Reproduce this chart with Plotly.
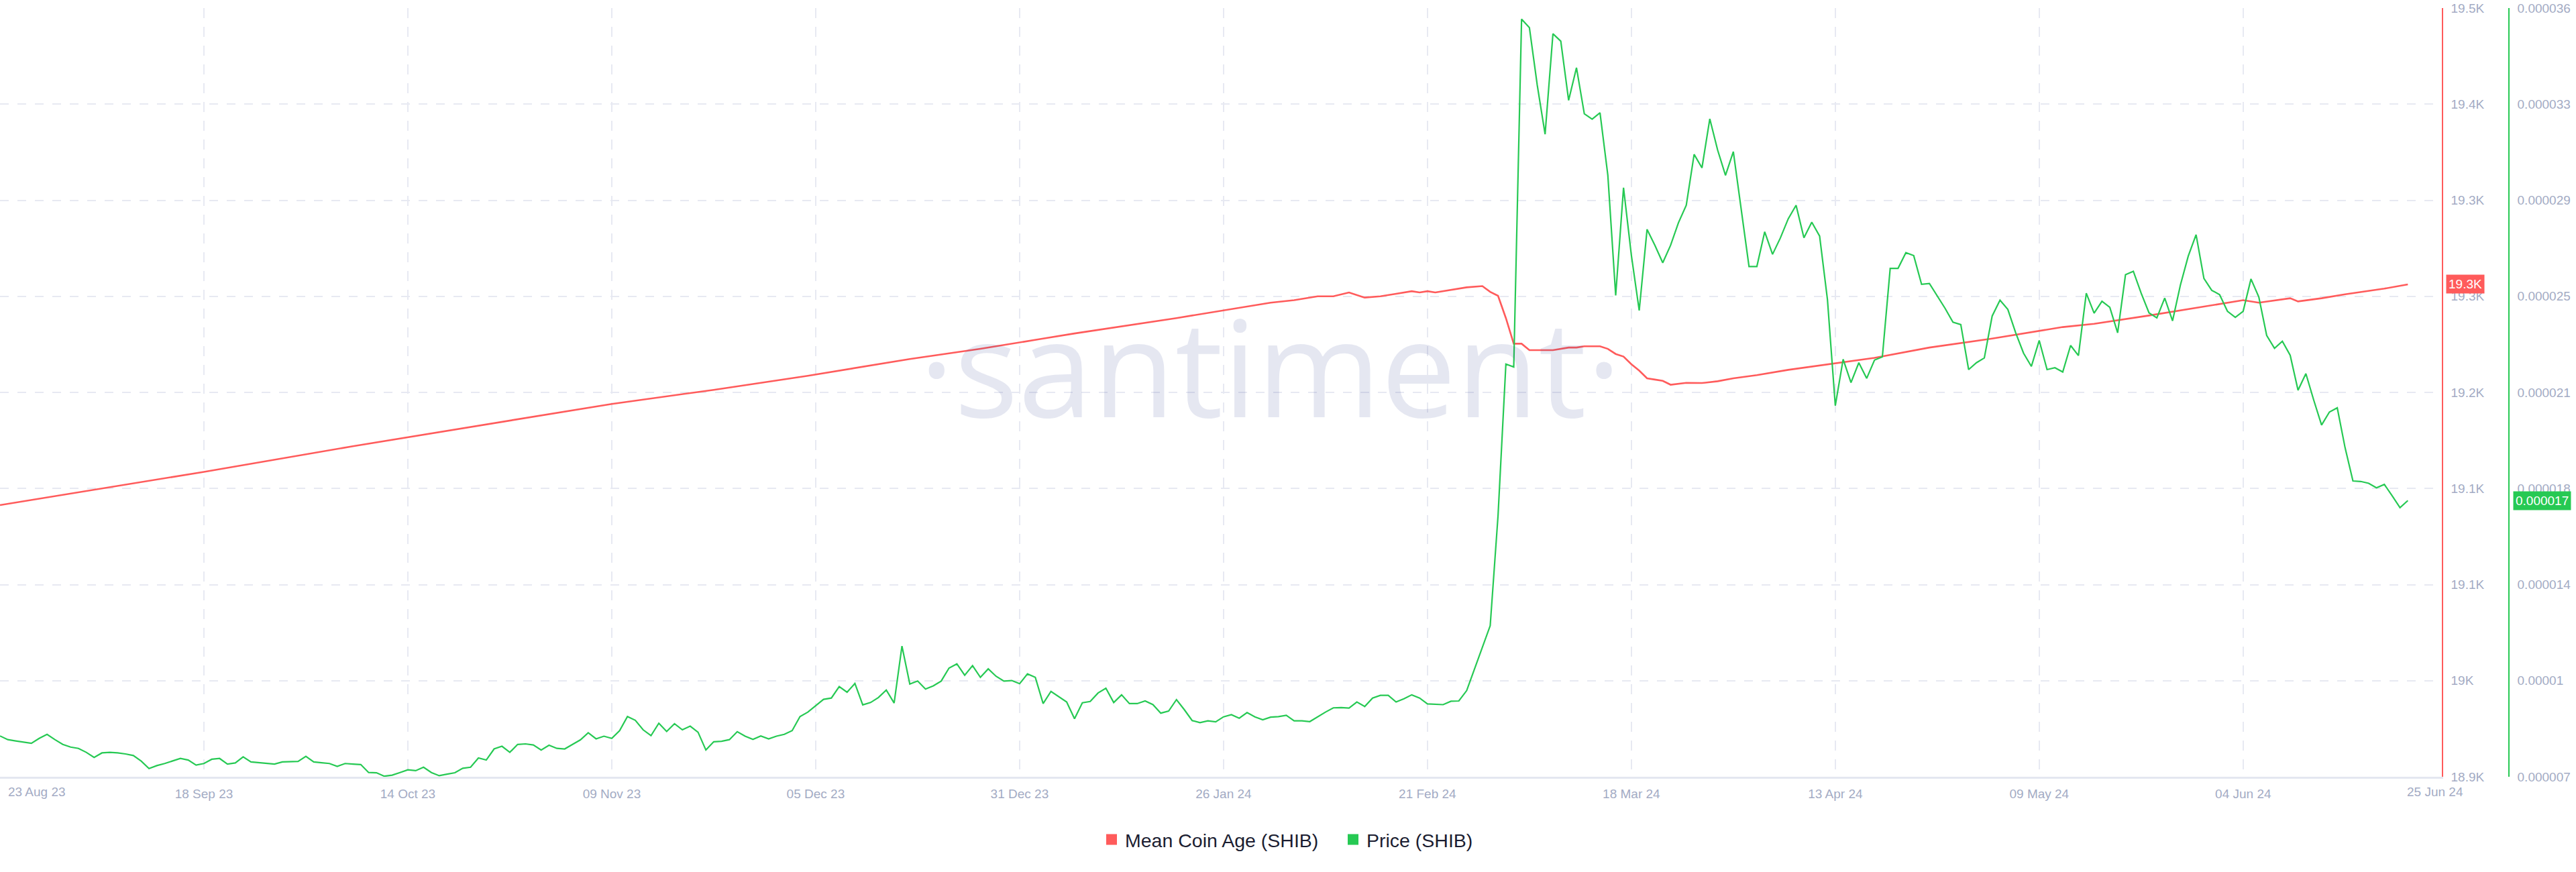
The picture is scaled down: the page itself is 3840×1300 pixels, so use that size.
import plotly.graph_objects as go
import pandas as pd

# ---------------- data ----------------
start_date = "2023-08-23"

price_e6 = [
    8.54, 8.40, 8.35, 8.30, 8.26, 8.45, 8.60, 8.40, 8.22, 8.12,
    8.07, 7.92, 7.73, 7.90, 7.92, 7.90, 7.86, 7.80, 7.59, 7.31,
    7.42, 7.50, 7.60, 7.69, 7.63, 7.44, 7.50, 7.66, 7.69, 7.48,
    7.52, 7.75, 7.56, 7.53, 7.50, 7.48, 7.56, 7.57, 7.58, 7.77,
    7.56, 7.53, 7.50, 7.39, 7.50, 7.48, 7.46, 7.16, 7.15, 7.02,
    7.06, 7.16, 7.26, 7.23, 7.36, 7.16, 7.04, 7.10, 7.15, 7.32,
    7.36, 7.71, 7.63, 8.05, 8.15, 7.92, 8.22, 8.24, 8.20, 8.01,
    8.19, 8.07, 8.05, 8.22, 8.39, 8.66, 8.43, 8.53, 8.45, 8.74,
    9.27, 9.13, 8.77, 8.55, 9.02, 8.71, 9.00, 8.77, 8.91, 8.68,
    8.01, 8.32, 8.34, 8.40, 8.70, 8.53, 8.41, 8.54, 8.43, 8.53,
    8.60, 8.74, 9.27, 9.44, 9.68, 9.92, 9.97, 10.40, 10.19, 10.52,
    9.71, 9.80, 9.99, 10.27, 9.78, 11.93, 10.50, 10.61, 10.31, 10.43,
    10.61, 11.10, 11.26, 10.83, 11.19, 10.75, 11.07, 10.79, 10.61, 10.63,
    10.51, 10.88, 10.75, 9.76, 10.22, 10.03, 9.82, 9.19, 9.79, 9.84,
    10.16, 10.34, 9.80, 10.09, 9.76, 9.76, 9.86, 9.72, 9.40, 9.48,
    9.91, 9.53, 9.12, 9.04, 9.11, 9.07, 9.26, 9.34, 9.21, 9.42,
    9.26, 9.15, 9.25, 9.27, 9.32, 9.11, 9.11, 9.08, 9.27, 9.44,
    9.60, 9.61, 9.59, 9.82, 9.65, 9.97, 10.07, 10.07, 9.82, 9.94,
    10.09, 9.97, 9.75, 9.74, 9.72, 9.85, 9.86, 10.25, 11.05, 11.85,
    12.70, 16.85, 22.57, 22.46, 35.58, 35.26, 33.09, 31.24, 35.03, 34.75,
    32.52, 33.75, 32.01, 31.81, 32.05, 29.69, 25.16, 29.22, 26.67, 24.59,
    27.65, 27.05, 26.39, 27.05, 27.90, 28.56, 30.48, 29.97, 31.82, 30.64,
    29.69, 30.58, 28.37, 26.25, 26.25, 27.56, 26.71, 27.33, 28.05, 28.56,
    27.33, 27.92, 27.40, 25.00, 21.00, 22.75, 21.87, 22.62, 22.03, 22.72,
    22.84, 26.18, 26.18, 26.77, 26.66, 25.58, 25.61, 25.13, 24.67, 24.15,
    24.06, 22.36, 22.62, 22.80, 24.38, 24.98, 24.63, 23.75, 22.98, 22.48,
    23.46, 22.36, 22.43, 22.27, 23.27, 22.89, 25.24, 24.49, 24.94, 24.71,
    23.75, 25.94, 26.07, 25.24, 24.50, 24.31, 25.06, 24.20, 25.55, 26.64,
    27.45, 25.80, 25.35, 25.19, 24.56, 24.33, 24.56, 25.78, 25.10, 23.65,
    23.16, 23.43, 22.90, 21.58, 22.21, 21.21, 20.27, 20.76, 20.92, 19.41,
    18.16, 18.14, 18.07, 17.90, 18.03, 17.60, 17.15, 17.42,
]

mca_dates = [
    "2023-08-23", "2023-09-04", "2023-09-18", "2023-10-07", "2023-11-02",
    "2023-11-09", "2023-11-22", "2023-12-04", "2023-12-17", "2023-12-26",
    "2024-01-03", "2024-01-07", "2024-01-20", "2024-02-01", "2024-02-04",
    "2024-02-07", "2024-02-09", "2024-02-11", "2024-02-13", "2024-02-15",
    "2024-02-17", "2024-02-19", "2024-02-20", "2024-02-21", "2024-02-22",
    "2024-02-24", "2024-02-26", "2024-02-28", "2024-02-29", "2024-03-01",
    "2024-03-02", "2024-03-03", "2024-03-04", "2024-03-05", "2024-03-07",
    "2024-03-08", "2024-03-10", "2024-03-11", "2024-03-12", "2024-03-13",
    "2024-03-14", "2024-03-15", "2024-03-16", "2024-03-17", "2024-03-18",
    "2024-03-19", "2024-03-20", "2024-03-21", "2024-03-22", "2024-03-23",
    "2024-03-25", "2024-03-27", "2024-03-29", "2024-03-31", "2024-04-03",
    "2024-04-07", "2024-04-10", "2024-04-18", "2024-04-25", "2024-05-03",
    "2024-05-12", "2024-05-16", "2024-05-23", "2024-05-30", "2024-06-04",
    "2024-06-06", "2024-06-10", "2024-06-11", "2024-06-14", "2024-06-17",
    "2024-06-22", "2024-06-25",
]
mca_values = [
    19112, 19124, 19138, 19158, 19184,
    19191, 19202, 19213, 19226, 19234,
    19242, 19246, 19258, 19270, 19272,
    19275, 19275, 19278, 19274, 19275,
    19277, 19279, 19278, 19279, 19278,
    19280, 19282, 19283, 19278.5, 19275.4,
    19258, 19238, 19238, 19233, 19233,
    19233, 19235, 19235, 19236, 19236,
    19236, 19234, 19230, 19228, 19222,
    19217, 19211, 19210, 19209, 19206,
    19207.5, 19207.3, 19208.7, 19211, 19213.5,
    19217.6, 19220.2, 19227, 19235, 19242,
    19251, 19253.5, 19260, 19267, 19272,
    19270, 19273.5, 19271, 19273.5, 19276.6,
    19281, 19284.3,
]

x_tick_dates = ["2023-08-23", "2023-09-18", "2023-10-14", "2023-11-09", "2023-12-05",
                "2023-12-31", "2024-01-26", "2024-02-21", "2024-03-18", "2024-04-13",
                "2024-05-09", "2024-06-04"]
x_tick_labels = ["", "18 Sep 23", "14 Oct 23", "09 Nov 23", "05 Dec 23", "31 Dec 23",
                 "26 Jan 24", "21 Feb 24", "18 Mar 24", "13 Apr 24", "09 May 24", "04 Jun 24"]
first_label = "23 Aug 23"
last_label = "25 Jun 24"

mca_ticks = [18900, 18975, 19050, 19125, 19200, 19275, 19350, 19425, 19500]
mca_tick_labels = ["18.9K", "19K", "19.1K", "19.1K", "19.2K", "19.3K", "19.3K", "19.4K", "19.5K"]
price_ticks_e6 = [7, 10.625, 14.25, 17.875, 21.5, 25.125, 28.75, 32.375, 36]
price_tick_labels = ["0.000007", "0.00001", "0.000014", "0.000018", "0.000021",
                     "0.000025", "0.000029", "0.000033", "0.000036"]

mca_badge = "19.3K"
price_badge = "0.000017"

# ---------------- styling ----------------
RED = "#ff5b5b"
GREEN = "#26c953"
TICK = "#a3abc4"
GRID = "#e7e9f2"
FONT = "Liberation Sans, Arial, sans-serif"

price_dates = pd.date_range(start_date, periods=len(price_e6), freq="D")
price = [v * 1e-6 for v in price_e6]

W, H = 3840, 1300
PLOT_R = 3640
AX2_X = 3740

fig = go.Figure()

fig.add_trace(go.Scatter(
    x=pd.to_datetime(mca_dates), y=mca_values, mode="lines", name="Mean Coin Age (SHIB)",
    line=dict(color=RED, width=2.6), yaxis="y", showlegend=False, hoverinfo="skip"))
fig.add_trace(go.Scatter(
    x=price_dates, y=price, mode="lines", name="Price (SHIB)",
    line=dict(color=GREEN, width=2.2), yaxis="y2", showlegend=False, hoverinfo="skip"))

# legend entries (square swatches)
fig.add_trace(go.Scatter(x=[None], y=[None], mode="markers", name="Mean Coin Age (SHIB)",
                         marker=dict(symbol="square", size=18, color=RED), yaxis="y"))
fig.add_trace(go.Scatter(x=[None], y=[None], mode="markers", name="Price (SHIB)",
                         marker=dict(symbol="square", size=18, color=GREEN), yaxis="y2"))

fig.update_layout(
    width=W, height=H,
    margin=dict(l=0, r=0, t=12, b=142),
    paper_bgcolor="white", plot_bgcolor="white",
    hovermode=False,
    font=dict(family=FONT, size=19, color=TICK),
    xaxis=dict(
        domain=[0, PLOT_R / W],
        type="date",
        range=["2023-08-23", "2024-06-29 08:00"],
        tickmode="array", tickvals=x_tick_dates, ticktext=x_tick_labels,
        tickfont=dict(family=FONT, size=19, color=TICK),
        ticks="outside", ticklen=6, tickcolor="rgba(0,0,0,0)",
        showgrid=True, gridcolor=GRID, gridwidth=2, griddash="15px,13px",
        showline=True, linecolor="#e4e7f0", linewidth=3,
        zeroline=False, fixedrange=True,
    ),
    yaxis=dict(
        side="right", anchor="x",
        range=[18900, 19500],
        tickmode="array", tickvals=mca_ticks, ticktext=mca_tick_labels,
        tickfont=dict(family=FONT, size=19, color=TICK),
        ticks="outside", ticklen=8, tickcolor="rgba(0,0,0,0)",
        showgrid=True, gridcolor=GRID, gridwidth=2, griddash="13px,13px",
        showline=True, linecolor=RED, linewidth=1.5,
        zeroline=False, fixedrange=True,
    ),
    yaxis2=dict(
        side="right", overlaying="y", anchor="free", position=AX2_X / W,
        range=[7e-6, 36e-6],
        tickmode="array", tickvals=[v * 1e-6 for v in price_ticks_e6], ticktext=price_tick_labels,
        tickfont=dict(family=FONT, size=19, color=TICK),
        ticks="outside", ticklen=8, tickcolor="rgba(0,0,0,0)",
        showgrid=False,
        showline=True, linecolor=GREEN, linewidth=1.5,
        zeroline=False, fixedrange=True,
    ),
    legend=dict(
        orientation="h", x=1637 / W, xanchor="left", y=-0.082, yanchor="middle",
        entrywidth=315, entrywidthmode="pixels",
        font=dict(family=FONT, size=28.5, color="#1b1d31"),
        bgcolor="rgba(0,0,0,0)", itemclick=False, itemdoubleclick=False,
    ),
)

annotations = [
    # watermark
    dict(text="·santiment·", xref="paper", yref="paper",
         x=1893 / W, y=1 - (544 - 12) / 1146, xanchor="center", yanchor="middle",
         showarrow=False,
         font=dict(family="Open Sans, Noto Sans, sans-serif", size=200,
                   color="rgba(40,60,140,0.12)")),
    # edge x labels
    dict(text=first_label, x=start_date, xref="x", y=-(1180 - 1158) / 1146, yref="paper",
         xanchor="left", yanchor="middle", xshift=10, showarrow=False,
         font=dict(family=FONT, size=19, color=TICK)),
    dict(text=last_label, x="2024-06-25", xref="x", y=-(1180 - 1158) / 1146, yref="paper",
         xanchor="left", yanchor="middle", xshift=-3, showarrow=False,
         font=dict(family=FONT, size=19, color=TICK)),
    # last value badges
    dict(text=mca_badge, x=(PLOT_R + 6) / W, xref="paper", y=mca_values[-1], yref="y",
         xanchor="left", yanchor="middle", showarrow=False, bgcolor=RED, borderpad=3,
         font=dict(family=FONT, size=19, color="white")),
    dict(text=price_badge, x=(AX2_X + 6) / W, xref="paper", y=price[-1], yref="y2",
         xanchor="left", yanchor="middle", showarrow=False, bgcolor=GREEN, borderpad=3,
         font=dict(family=FONT, size=19, color="white")),
]
fig.update_layout(annotations=annotations)

fig.write_html(
    "out.html",
    config={"displayModeBar": False},
    post_script="document.body.style.margin='0';document.body.style.overflow='hidden';",
)
